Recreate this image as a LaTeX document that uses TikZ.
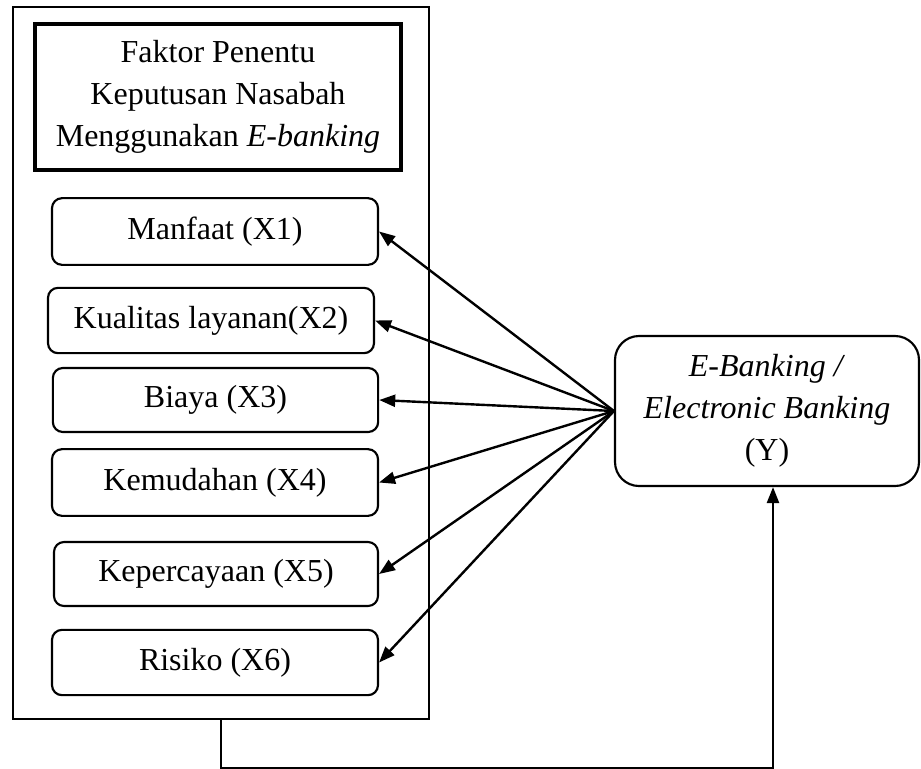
\documentclass[tikz,border=0pt]{standalone}
\usepackage{fontspec}
\setmainfont{Liberation Serif}
\usetikzlibrary{arrows.meta}
\begin{document}
\begin{tikzpicture}[x=0.75pt,y=-0.75pt,
  every node/.style={font=\fontsize{24}{31.5}\selectfont, inner sep=0pt, align=center},
  factor/.style={draw, line width=1.6pt, rounded corners=7.5pt, minimum height=48pt},
  titlebox/.style={draw, line width=3.2pt},
  framebox/.style={draw, line width=1.6pt},
  ybox/.style={draw, line width=1.6pt, rounded corners=18pt},
  conn/.style={line width=1.8pt, -{Triangle[length=12pt,width=9pt]}}
]
\useasboundingbox (0,0) rectangle (921,768);
\node[framebox, minimum width=312pt, minimum height=534pt] (outer) at (221,363) {};
\node[titlebox, minimum width=274.5pt, minimum height=109.5pt] (title) at (218,97)
  {Faktor Penentu\\Keputusan Nasabah\\Menggunakan \textit{E-banking}};
\node[factor, minimum width=244.5pt, minimum height=50pt] (x1) at (215,231.5) {Manfaat (X1)};
\node[factor, minimum width=244.5pt, minimum height=49pt] (x2) at (211,320.5) {Kualitas layanan(X2)};
\node[factor, minimum width=244pt, minimum height=48pt] (x3) at (215.5,400) {Biaya (X3)};
\node[factor, minimum width=244.5pt, minimum height=50pt] (x4) at (215,482.5) {Kemudahan (X4)};
\node[factor, minimum width=243pt, minimum height=48pt] (x5) at (216,574) {Kepercayaan (X5)};
\node[factor, minimum width=244.5pt, minimum height=49pt] (x6) at (215,662.5) {Risiko (X6)};
\node[ybox, minimum width=228pt, minimum height=112.5pt] (y) at (767,411)
  {\textit{E-Banking /}\\\textit{Electronic Banking}\\(Y)};
\coordinate (hub) at (y.west);
\foreach \t in {x1,x2,x3,x4,x5,x6}{
  \draw[conn] (hub) -- (\t.east);
}
\coordinate (turn) at ([yshift=-36pt]outer.south);
\draw[conn] (outer.south) -- (turn) -| ([xshift=4.5pt]y.south);
\end{tikzpicture}
\end{document}
